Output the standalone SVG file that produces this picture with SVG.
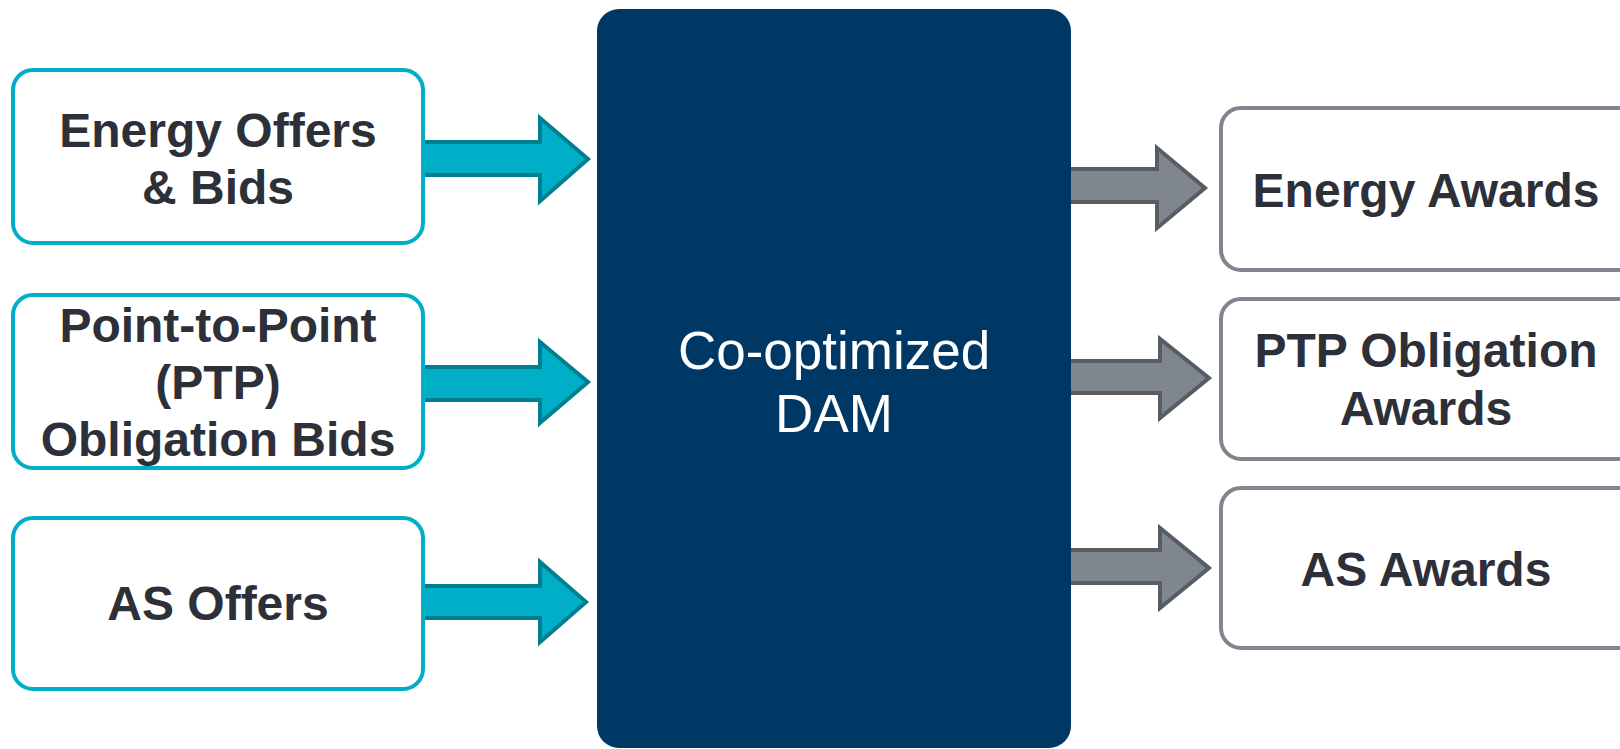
<svg xmlns="http://www.w3.org/2000/svg" width="1620" height="749" viewBox="0 0 1620 749">
<style>
.in{fill:#ffffff;stroke:#00AEC7;stroke-width:4}
.out{fill:#ffffff;stroke:#7F868D;stroke-width:4}
.lbl{font-family:"Liberation Sans",Arial,sans-serif;font-weight:bold;font-size:48px;fill:#2D3038;text-anchor:middle}
.ctr{font-family:"Liberation Sans",Arial,sans-serif;font-size:53px;fill:#ffffff;text-anchor:middle}
.ain{fill:#00AEC7;stroke:#007F91;stroke-width:4;stroke-linejoin:miter}
.aout{fill:#7F868D;stroke:#575D63;stroke-width:4;stroke-linejoin:miter}
</style>
<rect width="1620" height="749" fill="#ffffff"/>
<g id="connectors">
<polygon class="ain" points="415,142 540,142 540,118 588,159 540,201 540,175 415,175"/>
<polygon class="ain" points="415,367 540,367 540,342 588,382 540,423 540,400 415,400"/>
<polygon class="ain" points="415,586 540,586 540,562 586,602 540,642 540,618 415,618"/>
<polygon class="aout" points="1060,169 1157,169 1157,148 1205,188 1157,228 1157,202 1060,202"/>
<polygon class="aout" points="1060,361 1160,361 1160,339 1209,378 1160,418 1160,393 1060,393"/>
<polygon class="aout" points="1060,550 1160,550 1160,528 1209,568 1160,608 1160,583 1060,583"/>
</g>
<g id="dam">
<rect x="597" y="9" width="474" height="739" rx="22" fill="#003865"/>
<text class="ctr" x="834" y="369">Co-optimized</text>
<text class="ctr" x="834" y="432">DAM</text>
</g>
<g id="energy-offers">
<rect class="in" x="13" y="70" width="410" height="173" rx="20"/>
<text class="lbl" x="218" y="147">Energy Offers</text>
<text class="lbl" x="218" y="204">&amp; Bids</text>
</g>
<g id="ptp-bids">
<rect class="in" x="13" y="295" width="410" height="173" rx="20"/>
<text class="lbl" x="218" y="342">Point-to-Point</text>
<text class="lbl" x="218" y="399">(PTP)</text>
<text class="lbl" x="218" y="456">Obligation Bids</text>
</g>
<g id="as-offers">
<rect class="in" x="13" y="518" width="410" height="171" rx="20"/>
<text class="lbl" x="218" y="620">AS Offers</text>
</g>
<g id="energy-awards">
<rect class="out" x="1221" y="108" width="420" height="162" rx="20"/>
<text class="lbl" x="1426" y="207">Energy Awards</text>
</g>
<g id="ptp-awards">
<rect class="out" x="1221" y="299" width="420" height="160" rx="20"/>
<text class="lbl" x="1426" y="367">PTP Obligation</text>
<text class="lbl" x="1426" y="425">Awards</text>
</g>
<g id="as-awards">
<rect class="out" x="1221" y="488" width="420" height="160" rx="20"/>
<text class="lbl" x="1426" y="586">AS Awards</text>
</g>
</svg>
